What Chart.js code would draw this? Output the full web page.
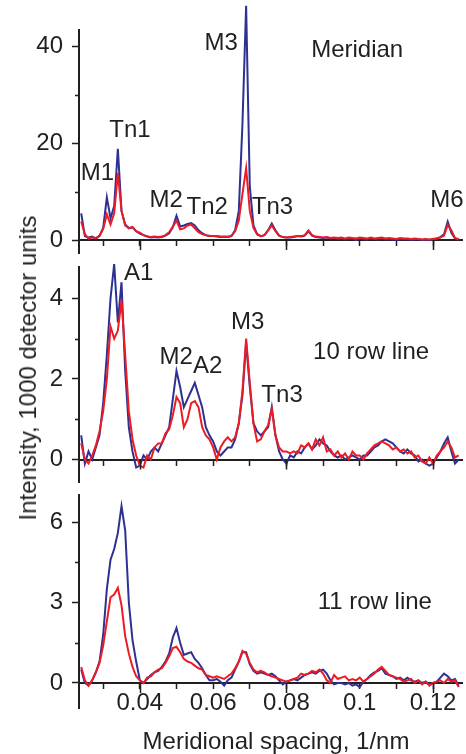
<!DOCTYPE html>
<html>
<head>
<meta charset="utf-8">
<script src="https://cdn.jsdelivr.net/npm/chart.js@4.4.1/dist/chart.umd.min.js"></script>
<style>
  html, body { margin: 0; padding: 0; background: #fff; }
  body { width: 466px; height: 754px; position: relative; overflow: hidden;
         font-family: "Liberation Sans", Arial, sans-serif; color: #231f20; }
  .panel { position: absolute; left: 0; width: 466px; }
  #p1 { top: 0; height: 256px; }
  #p2 { top: 256px; height: 229px; }
  #p3 { top: 485px; height: 269px; }
  #yTitle { position: absolute; left: 28px; top: 368px; font-size: 24px; white-space: nowrap;
            transform: translate(-50%, -50%) rotate(-90deg); }
  #xTitle { position: absolute; left: 0; width: 552px; top: 729px; font-size: 24px; line-height: 24px;
            text-align: center; white-space: nowrap; }
</style>
</head>
<body>
<div class="panel" id="p1"><canvas id="meridianChart"></canvas></div>
<div class="panel" id="p2"><canvas id="row10Chart"></canvas></div>
<div class="panel" id="p3"><canvas id="row11Chart"></canvas></div>
<div id="yTitle">Intensity, 1000 detector units</div>
<div id="xTitle">Meridional spacing, 1/nm</div>
<script>
// Meridional spacing (1/nm) of every sample
const spacing = [0.024,0.025,0.026,0.027,0.028,0.029,0.030,0.031,0.032,0.033,
  0.034,0.035,0.036,0.037,0.038,0.039,0.040,0.041,0.042,0.043,
  0.044,0.045,0.046,0.047,0.048,0.049,0.050,0.051,0.052,0.053,
  0.054,0.055,0.056,0.057,0.058,0.059,0.060,0.061,0.062,0.063,
  0.064,0.065,0.066,0.067,0.068,0.069,0.070,0.071,0.072,0.073,
  0.074,0.075,0.076,0.077,0.078,0.079,0.080,0.081,0.082,0.083,
  0.084,0.085,0.086,0.087,0.088,0.089,0.090,0.091,0.092,0.093,
  0.094,0.095,0.096,0.097,0.098,0.099,0.100,0.101,0.102,0.103,
  0.104,0.105,0.106,0.107,0.108,0.109,0.110,0.111,0.112,0.113,
  0.114,0.115,0.116,0.117,0.118,0.119,0.120,0.121,0.122,0.123,
  0.124,0.125,0.126,0.127];

// Meridian
const meridianBlue = [5.5,0.8,0.5,0.7,0.3,0.8,2.5,8.8,4.5,7.0,
  18.8,6.0,3.2,2.5,2.6,1.8,1.3,1.0,0.7,0.5,
  0.6,0.5,0.6,0.9,1.4,2.6,5.0,2.8,3.0,3.3,
  3.5,3.0,2.0,1.4,1.0,0.8,0.8,0.7,0.6,0.7,
  0.6,0.8,2.0,6.0,24,48.3,11,3.0,1.2,0.8,
  1.0,2.0,3.4,2.0,0.9,0.6,0.5,0.5,0.6,0.8,
  0.7,0.9,1.8,0.9,0.6,0.5,0.4,0.5,0.3,0.4,
  0.2,0.3,0.1,0.3,0.2,0.0,0.3,0.2,0.1,0.3,
  0.2,0.1,0.3,0.1,0.2,0.1,0.0,0.2,0.1,0.2,
  0.0,0.1,0.2,0.0,0.1,0.0,0.2,0.3,0.6,1.2,
  3.8,1.5,0.3,0.2];
const meridianRed = [3.8,1.2,0.3,0.5,0.4,0.9,2.3,5.3,3.2,5.5,
  13.8,6.0,3.0,2.4,2.7,1.8,1.5,1.0,0.8,0.6,
  0.7,0.6,0.7,1.0,1.6,2.8,4.0,2.2,2.4,3.0,
  3.2,2.4,1.6,1.2,1.0,0.9,0.8,0.8,0.7,0.6,
  0.7,0.9,1.8,4.0,9.5,14.8,6.0,2.5,1.2,0.8,
  1.0,2.0,3.0,1.8,0.9,0.6,0.5,0.6,0.7,0.8,
  0.8,1.0,2.0,1.0,0.7,0.6,0.5,0.6,0.4,0.5,
  0.4,0.5,0.3,0.5,0.4,0.3,0.5,0.4,0.3,0.5,
  0.3,0.4,0.5,0.3,0.4,0.3,0.2,0.4,0.3,0.3,
  0.2,0.3,0.2,0.1,0.2,0.1,0.2,0.3,0.5,0.9,
  3.1,2.0,0.4,0.1];

// 10 row line
const row10Blue = [0.6,-0.1,0.2,0.0,0.3,0.6,1.4,2.6,4.0,4.85,
  3.4,4.4,2.2,0.8,0.2,-0.2,-0.15,0.1,0.0,0.2,
  0.3,0.2,0.4,0.6,0.8,1.5,2.2,1.8,1.3,1.5,
  1.7,1.9,1.6,1.3,0.8,0.6,0.45,0.2,0.1,0.2,
  0.3,0.3,0.5,0.9,1.6,2.9,1.8,0.9,0.7,0.6,
  0.7,0.8,1.3,0.6,0.2,0.0,-0.1,0.1,0.05,0.2,
  0.15,0.3,0.4,0.25,0.35,0.5,0.4,0.35,0.2,0.1,
  0.05,0.1,0.0,0.05,0.1,0.05,0.0,0.1,0.1,0.2,
  0.3,0.35,0.45,0.5,0.45,0.4,0.3,0.2,0.15,0.25,
  0.15,0.1,-0.05,0.0,-0.1,-0.15,-0.1,0.05,0.2,0.4,
  0.55,0.2,-0.1,0.0];
const row10Red = [0.4,0.0,-0.1,0.1,0.35,0.7,1.2,2.0,3.3,3.0,
  3.2,3.95,2.6,1.2,0.5,0.1,-0.15,-0.2,0.1,0.0,
  0.3,0.4,0.4,0.65,0.75,1.1,1.55,1.4,0.8,1.0,
  1.4,1.45,1.3,0.8,0.6,0.5,0.3,0.0,0.3,0.45,
  0.55,0.45,0.55,0.9,1.7,3.0,1.9,0.9,0.45,0.5,
  0.7,0.85,1.25,0.6,0.3,0.2,0.2,0.15,0.2,0.15,
  0.35,0.3,0.4,0.25,0.5,0.35,0.55,0.2,0.25,0.1,
  0.2,0.05,0.15,0.0,0.2,0.1,0.1,0.0,0.15,0.25,
  0.35,0.4,0.45,0.4,0.35,0.25,0.3,0.2,0.25,0.15,
  0.2,0.05,0.1,-0.05,-0.1,0.05,-0.1,0.1,0.2,0.3,
  0.45,0.3,0.05,0.1];

// 11 row line
const row11Blue = [0.5,0.0,-0.1,0.1,0.4,0.8,1.8,3.5,4.6,5.0,
  5.6,6.6,5.7,3.0,1.6,0.8,0.1,0.0,0.15,0.3,
  0.4,0.45,0.6,0.8,1.1,1.7,2.05,1.5,1.05,1.1,
  1.15,0.9,0.75,0.55,0.3,0.1,0.1,0.15,0.05,-0.1,
  0.1,0.2,0.5,0.8,1.15,1.15,0.7,0.45,0.35,0.4,
  0.35,0.3,0.35,0.25,0.1,-0.05,0.05,0.1,0.15,0.1,
  0.2,0.3,0.35,0.4,0.35,0.45,0.5,0.35,0.1,-0.05,
  0.0,0.0,-0.05,0.0,-0.1,-0.05,-0.15,0.05,0.15,0.3,
  0.4,0.45,0.55,0.35,0.3,0.25,0.15,0.2,0.1,0.2,
  0.1,0.05,0.1,0.0,0.05,-0.05,0.0,0.05,0.2,0.35,
  0.25,0.1,0.15,-0.1];
const row11Red = [0.6,0.1,-0.1,0.1,0.4,0.75,1.4,2.3,3.2,3.3,
  3.55,2.9,1.75,1.1,0.6,0.25,0.1,0.0,0.2,0.25,
  0.4,0.5,0.55,0.75,1.0,1.3,1.35,1.15,0.9,0.8,
  0.75,0.65,0.55,0.5,0.3,0.25,0.2,0.25,0.2,0.15,
  0.25,0.35,0.55,0.8,1.2,1.1,0.75,0.5,0.4,0.45,
  0.4,0.3,0.25,0.2,0.15,0.1,0.05,0.1,0.15,0.2,
  0.35,0.3,0.35,0.45,0.4,0.5,0.35,0.1,0.0,0.3,
  0.15,0.2,0.25,0.1,0.15,0.1,0.2,0.05,0.15,0.25,
  0.35,0.5,0.6,0.45,0.3,0.25,0.2,0.15,0.05,0.1,
  0.15,0.0,0.1,-0.05,0.05,-0.1,0.0,0.05,0.1,0.0,
  0.15,0.05,0.1,-0.15];

const xTickLabels = [0.04, 0.06, 0.08, 0.1, 0.12];
const xLongTicks = [0.04, 0.08, 0.12];

const BLUE = '#2e3192';
const RED = '#ed1c24';
const INK = '#231f20';
const FONT = '"Liberation Sans", Arial, sans-serif';

// Peak names, placed in data coordinates of each panel
const meridianNotes = [
  { text: 'M1', x: 0.0284, y: 13.8 }, { text: 'Tn1', x: 0.0373, y: 22.7 },
  { text: 'M2', x: 0.0472, y: 8.2 }, { text: 'Tn2', x: 0.0584, y: 6.8 },
  { text: 'M3', x: 0.0622, y: 40.6 }, { text: 'Tn3', x: 0.0762, y: 6.8 },
  { text: 'M6', x: 0.1238, y: 8.2 }, { text: 'Meridian', x: 0.0993, y: 39.2 }
];
const row10Notes = [
  { text: 'A1', x: 0.0397, y: 4.63 }, { text: 'M2', x: 0.0499, y: 2.54 },
  { text: 'A2', x: 0.0585, y: 2.30 }, { text: 'M3', x: 0.0694, y: 3.41 },
  { text: 'Tn3', x: 0.0788, y: 1.60 }, { text: '10 row line', x: 0.1031, y: 2.67 }
];
const row11Notes = [
  { text: '11 row line', x: 0.1041, y: 2.99 }
];

function isMajor(v, step) {
    return Math.abs(v / step - Math.round(v / step)) < 1e-6;
}

function notePlugin(notes) {
    return {
        id: 'notes',
        afterDatasetsDraw(chart) {
            const ctx = chart.ctx;
            ctx.save();
            ctx.fillStyle = INK;
            ctx.font = '24px ' + FONT;
            ctx.textAlign = 'center';
            ctx.textBaseline = 'middle';
            notes.forEach(n => {
                ctx.fillText(n.text, chart.scales.x.getPixelForValue(n.x), chart.scales.y.getPixelForValue(n.y));
            });
            ctx.restore();
        }
    };
}

// short minor ticks on y, long ticks on x every 0.04
function tickPlugin(yMajor) {
    return {
        id: 'tickMarks',
        afterDraw(chart) {
            const { ctx, scales: { x, y } } = chart;
            const left = chart.chartArea.left;
            const zero = y.getPixelForValue(0);
            ctx.save();
            ctx.strokeStyle = INK;
            ctx.lineWidth = 1.5;
            ctx.beginPath();
            y.ticks.forEach(t => {
                if (isMajor(t.value, yMajor)) return;
                const py = Math.round(y.getPixelForValue(t.value)) + 0.5;
                ctx.moveTo(left - 4, py);
                ctx.lineTo(left, py);
            });
            xLongTicks.forEach(v => {
                const px = Math.round(x.getPixelForValue(v)) + 0.5;
                ctx.moveTo(px, zero);
                ctx.lineTo(px, zero + 10);
            });
            ctx.stroke();
            ctx.restore();
        }
    };
}

function pairs(values) {
    return values.map((v, i) => ({ x: spacing[i], y: v }));
}

function makePanel(id, blue, red, notes, yMin, yMax, yMajor, padding, showX) {
    return new Chart(document.getElementById(id), {
        type: 'line',
        data: {
            datasets: [
                { label: 'red', data: pairs(red), borderColor: RED, borderWidth: 2, pointRadius: 0, clip: false },
                { label: 'blue', data: pairs(blue), borderColor: BLUE, borderWidth: 2, pointRadius: 0, clip: false }
            ]
        },
        options: {
            responsive: true,
            maintainAspectRatio: false,
            animation: false,
            layout: { padding: padding },
            plugins: { legend: { display: false }, tooltip: { enabled: false } },
            scales: {
                x: {
                    type: 'linear', axis: 'x', position: { y: 0 },
                    min: 0.0234, max: 0.1279,
                    // axis sits on y = 0, so it must not take room from the plot
                    afterFit: s => { s.height = 0; s.paddingLeft = 0; s.paddingRight = 0; },
                    grid: { display: true, drawOnChartArea: false, drawTicks: true, tickLength: 5, tickWidth: 1.5, tickColor: INK },
                    border: { display: true, color: INK, width: 2 },
                    ticks: {
                        display: showX, stepSize: 0.01, includeBounds: false, autoSkip: false, maxRotation: 0,
                        padding: 1, color: INK, font: { size: 24, family: FONT },
                        callback: v => {
                            const hit = xTickLabels.find(t => Math.abs(t - v) < 1e-6);
                            return hit !== undefined ? String(hit) : '';
                        }
                    }
                },
                y: {
                    min: yMin, max: yMax,
                    afterFit: s => { s.width = 79; s.paddingTop = 0; s.paddingBottom = 0; },
                    grid: {
                        display: true, drawOnChartArea: false, drawTicks: true, tickLength: 7, tickWidth: 1.5,
                        tickColor: c => (c.tick && isMajor(c.tick.value, yMajor) ? INK : 'rgba(0,0,0,0)')
                    },
                    border: { display: true, color: INK, width: 2 },
                    ticks: {
                        stepSize: yMajor / 2, includeBounds: false, padding: 9, color: INK,
                        font: { size: 24, family: FONT },
                        callback: v => (isMajor(v, yMajor) ? String(v) : '')
                    }
                }
            }
        },
        plugins: [notePlugin(notes), tickPlugin(yMajor)]
    });
}

makePanel('meridianChart', meridianBlue, meridianRed, meridianNotes, -2.68, 43.3, 20, { top: 30, bottom: 3, right: 4, left: 0 }, false);
makePanel('row10Chart', row10Blue, row10Red, row10Notes, -0.558, 4.777, 2, { top: 11, bottom: 3, right: 4, left: 0 }, false);
makePanel('row11Chart', row11Blue, row11Red, row11Notes, -0.933, 7.015, 3, { top: 10, bottom: 46, right: 4, left: 0 }, true);
</script>
</body>
</html>
